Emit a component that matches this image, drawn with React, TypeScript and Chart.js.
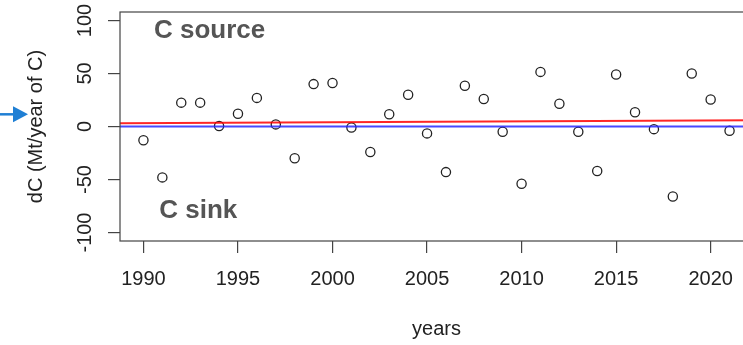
import React, { useEffect, useRef } from 'react';
import { Chart, registerables } from 'chart.js';

Chart.register(...registerables);

// ---- data ----
const years = [1990, 1991, 1992, 1993, 1994, 1995, 1996, 1997, 1998, 1999, 2000, 2001, 2002, 2003, 2004, 2005, 2006, 2007, 2008, 2009, 2010, 2011, 2012, 2013, 2014, 2015, 2016, 2017, 2018, 2019, 2020, 2021];
const dC = [-13, -48, 22.5, 22.5, 0.5, 12, 27, 2, -30, 40, 41, -1, -24, 11.5, 30, -6.5, -43, 38.5, 26, -5, -54, 51.5, 21.5, -5, -42, 49, 13.5, -2.5, -66, 50, 25.5, -4];
const xTickValues = [1990, 1995, 2000, 2005, 2010, 2015, 2020];
const yTickValues = [-100, -50, 0, 50, 100];
const xRange = [1988.76, 2022.24];
const yRange = [-108, 108];
const trendValues = [3.0, 5.9];
const zeroValues = [0, 0];
const noteTexts = ['C source', 'C sink'];
const noteYears = [1993.5, 1992.9];
const noteValues = [90, -80];
const arrowValue = 11.5;
const xTitle = 'years';
const yTitle = 'dC (Mt/year of C)';

const FONT = '"Liberation Sans", Arial, Helvetica, sans-serif';

const overlay = {
  id: 'overlay',
  afterDraw(chart: any) {
    const { ctx, chartArea: a, scales } = chart;
    ctx.save();
    ctx.strokeStyle = '#444';
    ctx.lineWidth = 1.2;
    ctx.strokeRect(a.left, a.top, a.right - a.left, a.bottom - a.top);

    ctx.font = 'bold 26px ' + FONT;
    ctx.fillStyle = '#555';
    ctx.textAlign = 'center';
    ctx.textBaseline = 'middle';
    noteTexts.forEach((t, i) => {
      ctx.fillText(t, scales.x.getPixelForValue(noteYears[i]), scales.y.getPixelForValue(noteValues[i]));
    });

    const ay = scales.y.getPixelForValue(arrowValue);
    ctx.strokeStyle = '#1f7fd4';
    ctx.fillStyle = '#1f7fd4';
    ctx.lineWidth = 2.5;
    ctx.beginPath();
    ctx.moveTo(0, ay);
    ctx.lineTo(15, ay);
    ctx.stroke();
    ctx.beginPath();
    ctx.moveTo(13, ay - 8);
    ctx.lineTo(28, ay);
    ctx.lineTo(13, ay + 8);
    ctx.closePath();
    ctx.fill();
    ctx.restore();
  },
};

export default function App() {
  const ref = useRef<HTMLCanvasElement>(null);
  useEffect(() => {
    const chart = new Chart(ref.current as HTMLCanvasElement, {
      type: 'scatter',
      data: {
        datasets: [
          {
            label: 'zero',
            type: 'line',
            data: xRange.map((x, i) => ({ x, y: zeroValues[i] })),
            borderColor: 'rgba(40,40,255,0.85)',
            borderWidth: 2,
            pointRadius: 0,
            order: 1,
          } as any,
          {
            label: 'trend',
            type: 'line',
            data: xRange.map((x, i) => ({ x, y: trendValues[i] })),
            borderColor: 'rgba(255,0,0,0.85)',
            borderWidth: 2,
            pointRadius: 0,
            order: 0,
          } as any,
          {
            label: 'dC',
            data: years.map((x, i) => ({ x, y: dC[i] })),
            pointStyle: 'circle',
            pointRadius: 4.6,
            pointBorderWidth: 1.3,
            borderColor: '#222',
            backgroundColor: 'rgba(0,0,0,0)',
            order: 2,
          },
        ],
      },
      options: {
        animation: false,
        responsive: false,
        devicePixelRatio: 1,
        layout: { autoPadding: false, padding: { top: 12, right: 0, bottom: 0, left: 0 } },
        plugins: { legend: { display: false }, tooltip: { enabled: false } },
        scales: {
          x: {
            type: 'linear',
            min: xRange[0],
            max: xRange[1],
            grid: { drawOnChartArea: false, drawTicks: true, tickLength: 12, color: '#444', lineWidth: 1.2 },
            border: { display: false },
            ticks: {
              autoSkip: false,
              padding: 14,
              color: '#222',
              font: { family: FONT, size: 20 },
              callback: (v: any) => String(v),
            },
            title: { display: true, text: xTitle, color: '#222', font: { family: FONT, size: 20 }, padding: { top: 0, bottom: 4 } },
            afterBuildTicks: (s: any) => { s.ticks = xTickValues.map((value) => ({ value })); },
            afterFit: (s: any) => {
              s.height = 104;
              s.paddingLeft = 0; s.paddingRight = 0; s.paddingTop = 0; s.paddingBottom = 0;
            },
          },
          y: {
            type: 'linear',
            min: yRange[0],
            max: yRange[1],
            grid: { drawOnChartArea: false, drawTicks: true, tickLength: 12, color: '#444', lineWidth: 1.2 },
            border: { display: false },
            ticks: {
              autoSkip: false,
              padding: 3,
              minRotation: 90,
              maxRotation: 90,
              crossAlign: 'center',
              color: '#222',
              font: { family: FONT, size: 20 },
              callback: (v: any) => String(v),
            },
            title: { display: true, text: yTitle, color: '#222', font: { family: FONT, size: 20 }, padding: { top: 24, bottom: 0 } },
            afterBuildTicks: (s: any) => { s.ticks = yTickValues.map((value) => ({ value })); },
            afterFit: (s: any) => {
              s.width = 120;
              s.paddingLeft = 0; s.paddingRight = 0; s.paddingTop = 0; s.paddingBottom = 0;
            },
          },
        },
      } as any,
      plugins: [overlay],
    });
    return () => chart.destroy();
  }, []);
  return (
    <div style={{ position: 'absolute', left: 0, top: 0, width: 743, height: 345, overflow: 'hidden', background: '#fff' }}>
      <canvas ref={ref} width={753} height={345} style={{ display: 'block', width: 753, height: 345 }} />
    </div>
  );
}
